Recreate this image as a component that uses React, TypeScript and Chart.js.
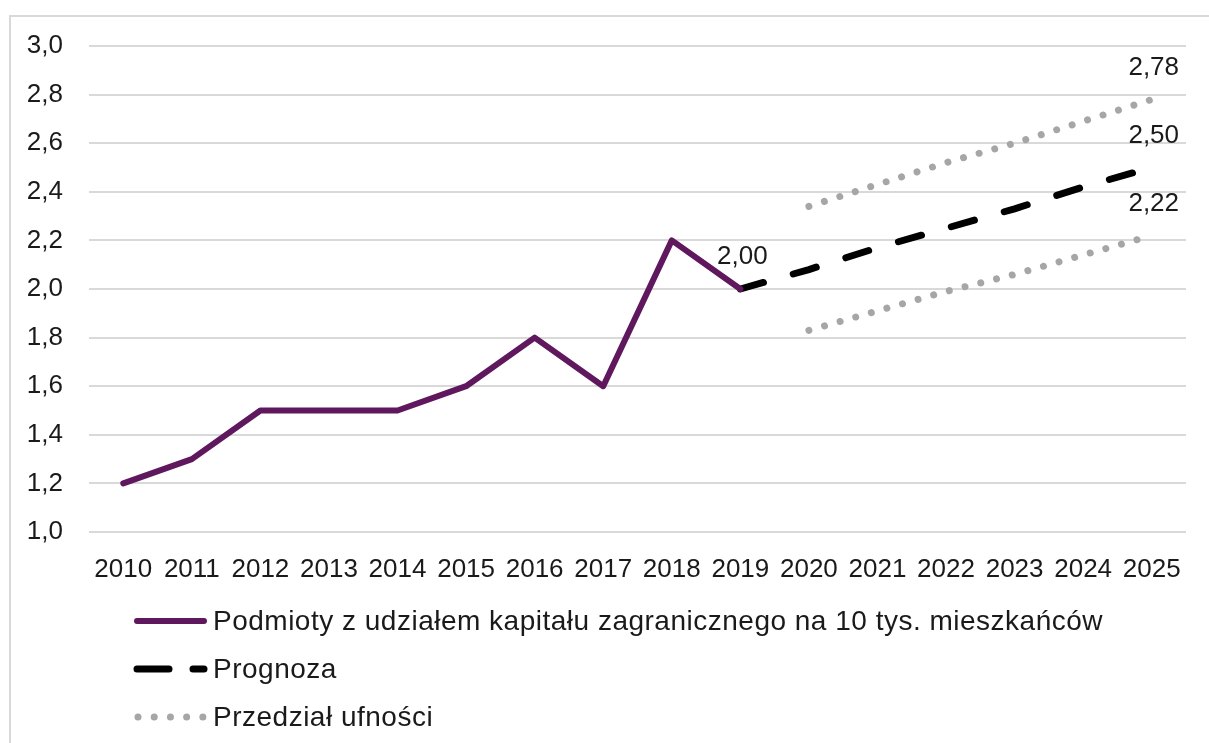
import React, { useEffect, useRef } from "react";
import { Chart, registerables } from "chart.js";

Chart.register(...registerables);

const years = ["2010", "2011", "2012", "2013", "2014", "2015", "2016", "2017", "2018", "2019", "2020", "2021", "2022", "2023", "2024", "2025"];
const actualValues = [1.2, 1.3, 1.5, 1.5, 1.5, 1.6, 1.8, 1.6, 2.2, 2.0, null, null, null, null, null, null];
const forecastValues = [null, null, null, null, null, null, null, null, null, 2.0, 2.08, 2.17, 2.25, 2.33, 2.42, 2.5];
const upperValues = [null, null, null, null, null, null, null, null, null, null, 2.34, 2.43, 2.52, 2.6, 2.69, 2.78];
const lowerValues = [null, null, null, null, null, null, null, null, null, null, 1.83, 1.91, 1.99, 2.06, 2.14, 2.22];
const yMin = 1.0;
const yMax = 3.0;
const yStep = 0.2;
const legendNames = [
  "Podmioty z udziałem kapitału zagranicznego na 10 tys. mieszkańców",
  "Prognoza",
  "Przedział ufności",
];
// [datasetIndex, pointIndex] of points that carry a value label
const labelledPoints = [
  [0, 9],
  [1, 15],
  [2, 15],
  [3, 15],
];

const FONT = "'Liberation Sans', Arial, sans-serif";
const TEXT = "#1a1a1a";

const labelsPlugin = {
  id: "valueLabels",
  afterDatasetsDraw(chart: any) {
    const ctx = chart.ctx;
    ctx.save();
    ctx.font = `26px ${FONT}`;
    ctx.fillStyle = TEXT;
    ctx.textAlign = "center";
    ctx.textBaseline = "middle";
    for (const [di, pi] of labelledPoints) {
      const meta = chart.getDatasetMeta(di);
      const el = meta.data[pi];
      const v = chart.data.datasets[di].data[pi] as number;
      ctx.fillText(v.toFixed(2).replace(".", ","), el.x + 2, el.y - 32);
    }
    ctx.restore();
  },
};

const legendPlugin = {
  id: "customLegend",
  afterDraw(chart: any) {
    const ctx = chart.ctx;
    const left = chart.chartArea.left + 44;
    const sampleW = 75;
    const rows = [621, 669, 717];
    ctx.save();
    for (let i = 0; i < 3; i++) {
      const ds = chart.data.datasets[i];
      const y = rows[i];
      ctx.beginPath();
      ctx.strokeStyle = ds.borderColor;
      ctx.lineWidth = ds.borderWidth;
      ctx.lineCap = "round";
      if (i === 1) {
        ctx.setLineDash([32, 24]);
      } else {
        ctx.setLineDash(ds.borderDash || []);
      }
      ctx.lineDashOffset = i === 2 ? -1 : 0;
      ctx.moveTo(left + 4, y);
      ctx.lineTo(left + sampleW - 4, y);
      ctx.stroke();
      ctx.setLineDash([]);
      ctx.font = `28px ${FONT}`;
      (ctx as any).letterSpacing = "0.5px";
      ctx.fillStyle = TEXT;
      ctx.textAlign = "left";
      ctx.textBaseline = "middle";
      ctx.fillText(legendNames[i], left + sampleW + 5, y + 1);
      (ctx as any).letterSpacing = "0px";
    }
    ctx.restore();
  },
};

export default function App() {
  const canvasRef = useRef<HTMLCanvasElement | null>(null);

  useEffect(() => {
    if (!canvasRef.current) return;
    const chart = new Chart(canvasRef.current, {
      type: "line",
      data: {
        labels: years,
        datasets: [
          {
            label: legendNames[0],
            data: actualValues,
            borderColor: "#5f185e",
            borderWidth: 6,
            borderCapStyle: "round",
            borderJoinStyle: "round",
            pointRadius: 0,
            tension: 0,
          },
          {
            label: legendNames[1],
            data: forecastValues,
            borderColor: "#000000",
            borderWidth: 7,
            borderDash: [24, 31],
            borderCapStyle: "round",
            pointRadius: 0,
            tension: 0,
          },
          {
            label: legendNames[2],
            data: upperValues,
            borderColor: "#a6a6a6",
            borderWidth: 7,
            borderDash: [0.01, 16.2],
            borderCapStyle: "round",
            pointRadius: 0,
            tension: 0,
          },
          {
            label: legendNames[2],
            data: lowerValues,
            borderColor: "#a6a6a6",
            borderWidth: 7,
            borderDash: [0.01, 16.2],
            borderCapStyle: "round",
            pointRadius: 0,
            tension: 0,
          },
        ],
      },
      options: {
        responsive: true,
        maintainAspectRatio: false,
        animation: false,
        layout: { padding: { top: 46, right: 23, left: 0, bottom: 0 } },
        plugins: {
          legend: { display: false },
          tooltip: { enabled: false },
        },
        scales: {
          x: {
            offset: true,
            grid: { display: false, drawTicks: false },
            border: { display: false },
            ticks: {
              color: TEXT,
              font: { family: FONT, size: 26 },
              padding: 22,
              maxRotation: 0,
              autoSkip: false,
            },
            afterFit(scale: any) {
              scale.height = 743 - 532;
            },
          },
          y: {
            min: yMin,
            max: yMax,
            grid: { color: "#d9d9d9", lineWidth: 2, drawTicks: false },
            border: { display: false },
            ticks: {
              stepSize: yStep,
              color: TEXT,
              font: { family: FONT, size: 26 },
              padding: 26,
              callback: (v: any) => Number(v).toFixed(1).replace(".", ","),
            },
            afterFit(scale: any) {
              scale.width = 89;
            },
          },
        },
      },
      plugins: [labelsPlugin, legendPlugin],
    });
    return () => chart.destroy();
  }, []);

  return (
    <div style={{ position: "fixed", left: 0, top: 0, width: 1209, height: 743, overflow: "hidden", background: "#fff" }}>
      <div
        style={{
          position: "absolute",
          left: 9,
          top: 15,
          width: 1300,
          height: 800,
          border: "2px solid #d9d9d9",
          boxSizing: "border-box",
        }}
      />
      <div style={{ position: "absolute", left: 0, top: 0, width: 1209, height: 743 }}>
        <canvas ref={canvasRef} />
      </div>
    </div>
  );
}
